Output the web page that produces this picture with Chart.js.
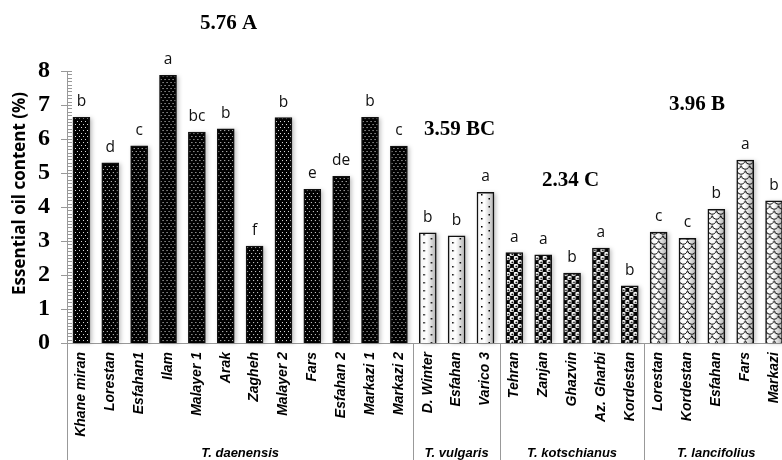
<!DOCTYPE html>
<html lang="en">
<head>
<meta charset="UTF-8">
<title>Essential oil content</title>
<style>
    html, body { margin: 0; padding: 0; background: #fff; overflow: hidden; }
    #wrap { width: 800px; height: 460px; }
</style>
</head>
<body>
<div id="wrap">
    <canvas id="oilChart" width="800" height="460"></canvas>
</div>
<script src="https://cdn.jsdelivr.net/npm/chart.js@4.4.1/dist/chart.umd.min.js"></script>
<script>
    // sites and oil content per species
    const daenensisSites = ['Khane miran', 'Lorestan', 'Esfahan1', 'Ilam', 'Malayer 1', 'Arak', 'Zagheh', 'Malayer 2', 'Fars', 'Esfahan 2', 'Markazi 1', 'Markazi 2'];
    const daenensisOil = [6.64, 5.30, 5.80, 7.87, 6.20, 6.30, 2.85, 6.63, 4.52, 4.90, 6.64, 5.79];
    const daenensisLetters = ['b', 'd', 'c', 'a', 'bc', 'b', 'f', 'b', 'e', 'de', 'b', 'c'];

    const vulgarisSites = ['D. Winter', 'Esfahan', 'Varico 3'];
    const vulgarisOil = [3.24, 3.15, 4.43];
    const vulgarisLetters = ['b', 'b', 'a'];

    const kotschianusSites = ['Tehran', 'Zanjan', 'Ghazvin', 'Az. Gharbi', 'Kordestan'];
    const kotschianusOil = [2.66, 2.59, 2.06, 2.79, 1.68];
    const kotschianusLetters = ['a', 'a', 'b', 'a', 'b'];

    const lancifoliusSites = ['Lorestan', 'Kordestan', 'Esfahan', 'Fars', 'Markazi'];
    const lancifoliusOil = [3.26, 3.08, 3.93, 5.38, 4.18];
    const lancifoliusLetters = ['c', 'c', 'b', 'a', 'b'];

    const speciesNames = ['T. daenensis', 'T. vulgaris', 'T. kotschianus', 'T. lancifolius'];
    const speciesMeans = ['5.76 A', '3.59 BC', '2.34 C', '3.96 B'];

    const yTicks = [0, 1, 2, 3, 4, 5, 6, 7, 8];
    const yTitle = 'Essential oil content (%)';

    // where the species means sit (category index, y value)
    const meanPos = [[5.1, 9.4], [13.1, 6.29], [16.95, 4.79], [21.33, 7.0]];

    const groups = [daenensisSites, vulgarisSites, kotschianusSites, lancifoliusSites];
    const labels = [].concat(daenensisSites, vulgarisSites, kotschianusSites, lancifoliusSites);
    const values = [].concat(daenensisOil, vulgarisOil, kotschianusOil, lancifoliusOil);
    const letters = [].concat(daenensisLetters, vulgarisLetters, kotschianusLetters, lancifoliusLetters);
    const groupOf = [];
    groups.forEach((g, gi) => g.forEach(() => groupOf.push(gi)));

    const BAR_W = 17;

    function makeTile(w, h, draw) {
        const c = document.createElement('canvas');
        c.width = w; c.height = h;
        draw(c.getContext('2d'), w, h);
        return c;
    }

    function shade(g, w, h) {
        const grd = g.createLinearGradient(0, 0, w, 0);
        grd.addColorStop(0, '#f4f4f4');
        grd.addColorStop(0.45, '#ffffff');
        grd.addColorStop(1, '#b0b0b0');
        g.fillStyle = grd;
        g.fillRect(0, 0, w, h);
    }

    const tiles = [
        // black with small light dots
        makeTile(4, 6, (g, w, h) => {
            g.fillStyle = '#000'; g.fillRect(0, 0, w, h);
            g.fillStyle = '#d8d8d8';
            g.fillRect(1, 1, 1, 1);
            g.fillRect(3, 4, 1, 1);
        }),
        // shaded white with black dots
        makeTile(BAR_W, 8, (g, w, h) => {
            shade(g, w, h);
            g.fillStyle = '#000';
            g.fillRect(4, 2, 1.5, 1.5);
            g.fillRect(11.5, 6, 1.5, 1.5);
        }),
        // black with white circles
        makeTile(8, 8, (g, w, h) => {
            g.fillStyle = '#000'; g.fillRect(0, 0, w, h);
            g.fillStyle = '#fff';
            [[2, 2], [6, 6]].forEach(([cx, cy]) => {
                g.beginPath(); g.arc(cx, cy, 2.3, 0, Math.PI * 2); g.fill();
            });
            g.fillStyle = '#000';
            [[2.4, 2.4], [6.4, 6.4]].forEach(([cx, cy]) => {
                g.beginPath(); g.arc(cx, cy, 0.9, 0, Math.PI * 2); g.fill();
            });
        }),
        // shaded white with scale curves
        makeTile(BAR_W, 10, (g, w, h) => {
            shade(g, w, h);
            g.strokeStyle = '#000';
            g.lineWidth = 1;
            const r = w / 4;
            [[r, 0], [3 * r, 0], [r, h], [3 * r, h], [0, h / 2], [2 * r, h / 2], [4 * r, h / 2]].forEach(([cx, cy]) => {
                g.beginPath(); g.arc(cx, cy, r, 0.15, Math.PI - 0.15); g.stroke();
            });
        })
    ];

    const patternCache = {};
    function barFill(ctx) {
        if (ctx.type !== 'data') return '#000';
        const i = ctx.dataIndex;
        const gi = groupOf[i];
        const key = gi + '_' + i;
        if (patternCache[key]) return patternCache[key];
        const pat = ctx.chart.ctx.createPattern(tiles[gi], 'repeat');
        const xs = ctx.chart.scales.x;
        if (xs) {
            const left = xs.getPixelForValue(i) - BAR_W / 2;
            pat.setTransform(new DOMMatrix([1, 0, 0, 1, left, 0]));
            patternCache[key] = pat;
        }
        return pat;
    }

    function boundary(xs, i) {
        return xs.getPixelForValue(i) - (xs.getPixelForValue(1) - xs.getPixelForValue(0)) / 2;
    }

    const extras = {
        id: 'extras',
        beforeDatasetsDraw(chart) {
            const c = chart.ctx;
            const meta = chart.getDatasetMeta(0);
            c.save();
            c.filter = 'blur(2px)';
            c.fillStyle = 'rgba(0,0,0,0.25)';
            meta.data.forEach(bar => {
                c.fillRect(bar.x - bar.width / 2 + 2, bar.y + 1, bar.width, bar.base - bar.y - 1);
            });
            c.restore();
        },
        afterDatasetsDraw(chart) {
            const c = chart.ctx;
            const xs = chart.scales.x;
            const ys = chart.scales.y;
            const area = chart.chartArea;
            const meta = chart.getDatasetMeta(0);
            c.save();
            // letters above bars
            c.font = '15.5px "Open Sans"';
            c.fillStyle = '#111';
            c.textAlign = 'center';
            c.textBaseline = 'alphabetic';
            meta.data.forEach((bar, i) => {
                c.fillText(letters[i], bar.x, bar.y - 11);
            });
            // species means
            c.font = 'bold 21px "Liberation Serif"';
            c.fillStyle = '#000';
            c.textBaseline = 'middle';
            speciesMeans.forEach((t, i) => {
                c.fillText(t, xs.getPixelForValue(meanPos[i][0]), ys.getPixelForValue(meanPos[i][1]));
            });
            // y axis title
            c.save();
            c.translate(20, ys.getPixelForValue(4.4));
            c.rotate(-Math.PI / 2);
            c.font = 'bold 17px "Open Sans"';
            c.fillText(yTitle, 0, 0);
            c.restore();
            // y axis ticks, major and minor
            c.strokeStyle = '#999';
            c.lineWidth = 1;
            c.beginPath();
            for (let v = 0; v <= 8.001; v += 0.1) {
                const y = Math.round(ys.getPixelForValue(v)) + 0.5;
                const major = Math.abs(v - Math.round(v)) < 0.01;
                c.moveTo(area.left - (major ? 6 : 0), y);
                c.lineTo(area.left + 5, y);
            }
            c.stroke();
            // group separators under the axis
            let start = 0;
            c.beginPath();
            groups.forEach(g => {
                const x = Math.round(boundary(xs, start)) + 0.5;
                c.moveTo(x, area.bottom);
                c.lineTo(x, chart.height);
                start += g.length;
            });
            c.stroke();
            // species names
            c.font = 'italic bold 13px "Liberation Sans"';
            c.fillStyle = '#000';
            c.textBaseline = 'middle';
            start = 0;
            groups.forEach((g, gi) => {
                const x0 = boundary(xs, start);
                const x1 = boundary(xs, start + g.length);
                c.fillText(speciesNames[gi], (x0 + x1) / 2, 453);
                start += g.length;
            });
            c.restore();
        }
    };

    new Chart(document.getElementById('oilChart'), {
        type: 'bar',
        data: {
            labels: labels,
            datasets: [{
                data: values,
                backgroundColor: barFill,
                borderColor: '#111',
                borderWidth: 1.5,
                barThickness: BAR_W
            }]
        },
        options: {
            responsive: false,
            animation: false,
            devicePixelRatio: 1,
            layout: { padding: { top: 71, right: 6, left: 0, bottom: 0 } },
            plugins: {
                legend: { display: false },
                tooltip: { enabled: false }
            },
            scales: {
                x: {
                    grid: { display: false, drawTicks: false },
                    border: { display: true, color: '#999' },
                    ticks: {
                        autoSkip: false,
                        minRotation: 90,
                        maxRotation: 90,
                        padding: 9,
                        color: '#000',
                        font: { family: 'Liberation Sans', size: 14, style: 'italic', weight: 'bold' }
                    },
                    afterFit(scale) { scale.height = 117; }
                },
                y: {
                    min: 0,
                    max: 8,
                    grid: { display: false, drawTicks: false },
                    border: { display: true, color: '#999' },
                    afterBuildTicks(scale) { scale.ticks = yTicks.map(v => ({ value: v })); },
                    ticks: {
                        padding: 17,
                        color: '#000',
                        font: { family: 'Liberation Serif', size: 24, weight: 'bold' }
                    },
                    afterFit(scale) { scale.width = 67; }
                }
            }
        },
        plugins: [extras]
    });
</script>
</body>
</html>
